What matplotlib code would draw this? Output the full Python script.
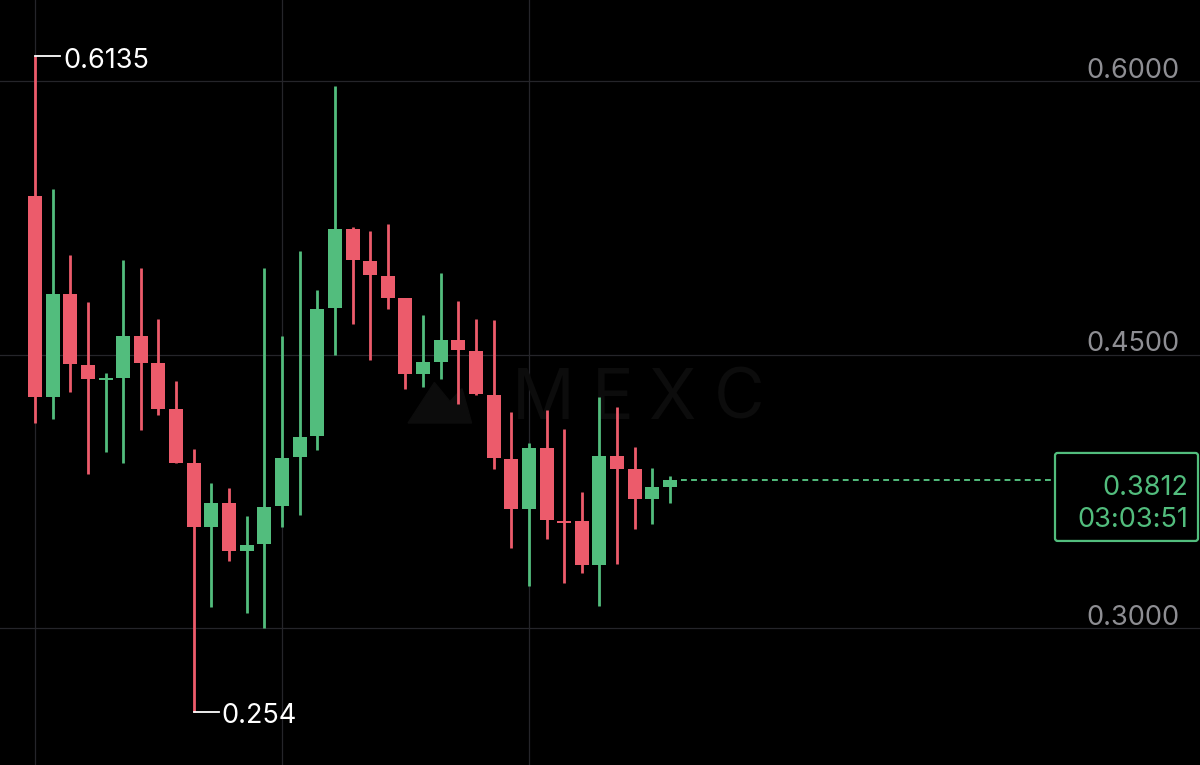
import matplotlib
matplotlib.use('agg')
import matplotlib.pyplot as plt
from matplotlib.patches import Rectangle, FancyBboxPatch, Polygon
import numpy as np

plt.rcParams['font.family'] = ['Inter', 'DejaVu Sans']

# OHLC candles
opens = [0.5369, 0.4267, 0.4832, 0.4442, 0.4360, 0.4371, 0.4601, 0.4453, 0.4201, 0.3905,
         0.3554, 0.3686, 0.3422, 0.3461, 0.3669, 0.3938, 0.4053, 0.4755, 0.5188, 0.5013,
         0.4931, 0.4810, 0.4393, 0.4459, 0.4580, 0.4519, 0.4278, 0.3927, 0.3653, 0.3987,
         0.3587, 0.3587, 0.3346, 0.3943, 0.3872, 0.3707, 0.3773]
highs = [0.6135, 0.5408, 0.5046, 0.4788, 0.4399, 0.5018, 0.4974, 0.4695, 0.4355, 0.3982,
         0.3795, 0.3768, 0.3614, 0.4974, 0.4601, 0.5068, 0.4854, 0.5973, 0.5199, 0.5177,
         0.5216, 0.4810, 0.4717, 0.4947, 0.4793, 0.4695, 0.4689, 0.4185, 0.4015, 0.4196,
         0.4091, 0.3746, 0.4267, 0.4212, 0.3993, 0.3878, 0.3834]
lows = [0.4124, 0.4146, 0.4294, 0.3845, 0.3965, 0.3905, 0.4086, 0.4168, 0.3905, 0.2540,
        0.3115, 0.3367, 0.3082, 0.3000, 0.3554, 0.3620, 0.3976, 0.4497, 0.4667, 0.4470,
        0.4750, 0.4311, 0.4322, 0.4366, 0.4229, 0.4278, 0.3872, 0.3439, 0.3230, 0.3488,
        0.3247, 0.3302, 0.3121, 0.3351, 0.3543, 0.3570, 0.3686]
closes = [0.4267, 0.4832, 0.4448, 0.4366, 0.4366, 0.4601, 0.4453, 0.4201, 0.3905, 0.3554,
          0.3686, 0.3422, 0.3455, 0.3664, 0.3932, 0.4047, 0.4750, 0.5188, 0.5018, 0.4936,
          0.4810, 0.4393, 0.4459, 0.4580, 0.4525, 0.4283, 0.3932, 0.3653, 0.3987, 0.3592,
          0.3576, 0.3346, 0.3943, 0.3872, 0.3707, 0.3773, 0.3812]

price_ticks = [0.3000, 0.4500, 0.6000]
countdown = '03:03:51'

UP = '#52bd7d'
DOWN = '#ec5b6b'
GRID = '#25252a'
BG = '#000000'

W, H = 1200, 765
step = 17.64            # px per candle
x0 = 35                 # px of first candle
y_top, y_bot = 0.64443, 0.22486

fig = plt.figure(figsize=(12, 7.65), dpi=100, facecolor=BG)
ax = fig.add_axes([0, 0, 1, 1])
ax.set_facecolor(BG)
ax.set_xlim(-x0 / step, (W - x0) / step)
ax.set_ylim(y_bot, y_top)
ax.axis('off')
px = (y_top - y_bot) / H   # price per pixel
FS = 19.5

# grid
for p in price_ticks:
    ax.axhline(p, color=GRID, lw=0.9, zorder=0)
    ax.annotate(f'{p:.4f}', xy=(0.983, p), xycoords=('axes fraction', 'data'),
                xytext=(0, 9.5), textcoords='offset points', ha='right',
                va='center_baseline', color='#8e8e93', fontsize=FS)
for i in [0, 14, 28]:
    ax.axvline(i, color=GRID, lw=0.9, zorder=0)

# watermark
ax.add_patch(Polygon([[0.340, 0.447], [0.362, 0.500], [0.375, 0.475], [0.385, 0.492],
                      [0.393, 0.447]],
                     closed=True, transform=ax.transAxes, color='#0c0c0c', zorder=0))
for ch, xp in zip('MEXC', [0.453, 0.511, 0.560, 0.616]):
    ax.text(xp, 0.477, ch, transform=ax.transAxes, ha='center', va='center',
            fontsize=50, color='#0c0c0c', fontweight='normal', zorder=0)

# candles
bw = 14 / step
for i, (o, h, l, c) in enumerate(zip(opens, highs, lows, closes)):
    col = UP if c >= o else DOWN
    ax.plot([i, i], [l, h], color=col, lw=2.0, solid_capstyle='butt', zorder=2)
    bot = min(o, c)
    hgt = max(abs(c - o), 2.2 * px)
    ax.add_patch(Rectangle((i - bw / 2, bot), bw, hgt, facecolor=col,
                           edgecolor='none', zorder=3))

# high / low markers
ih = int(np.argmax(highs))
il = int(np.argmin(lows))
for idx, val, lab in [(ih, highs[ih], '0.6135'), (il, lows[il], '0.254')]:
    ax.plot([idx, idx + 25 / step], [val, val], color='white', lw=1.3, zorder=4)
    ax.text(idx + 28 / step, val - 1.5 * px, lab, color='white', fontsize=FS,
            ha='left', va='center_baseline', zorder=4)

# last price line and label box
last = closes[-1]
n = len(closes)
box_left = (1055 - x0) / step
box_right = (1198 - x0) / step
ax.plot([n - 1 + 0.6, box_left], [last, last], color=UP, lw=1.4,
        ls=(0, (3, 2.2)), zorder=2)
ax.add_patch(FancyBboxPatch((box_left, last - 61 * px), box_right - box_left, 88 * px,
                            boxstyle='round,pad=0,rounding_size=0.15',
                            facecolor=BG, edgecolor=UP, lw=1.6, zorder=4,
                            mutation_aspect=px / (1 / step)))
ax.text((1188 - x0) / step, last - 5 * px, f'{last:.4f}', color=UP, fontsize=FS,
        ha='right', va='center_baseline', zorder=5)
ax.text((1188 - x0) / step, last - 37 * px, countdown, color=UP, fontsize=FS,
        ha='right', va='center_baseline', zorder=5)

fig.savefig('out.png', dpi=100, facecolor=BG)
